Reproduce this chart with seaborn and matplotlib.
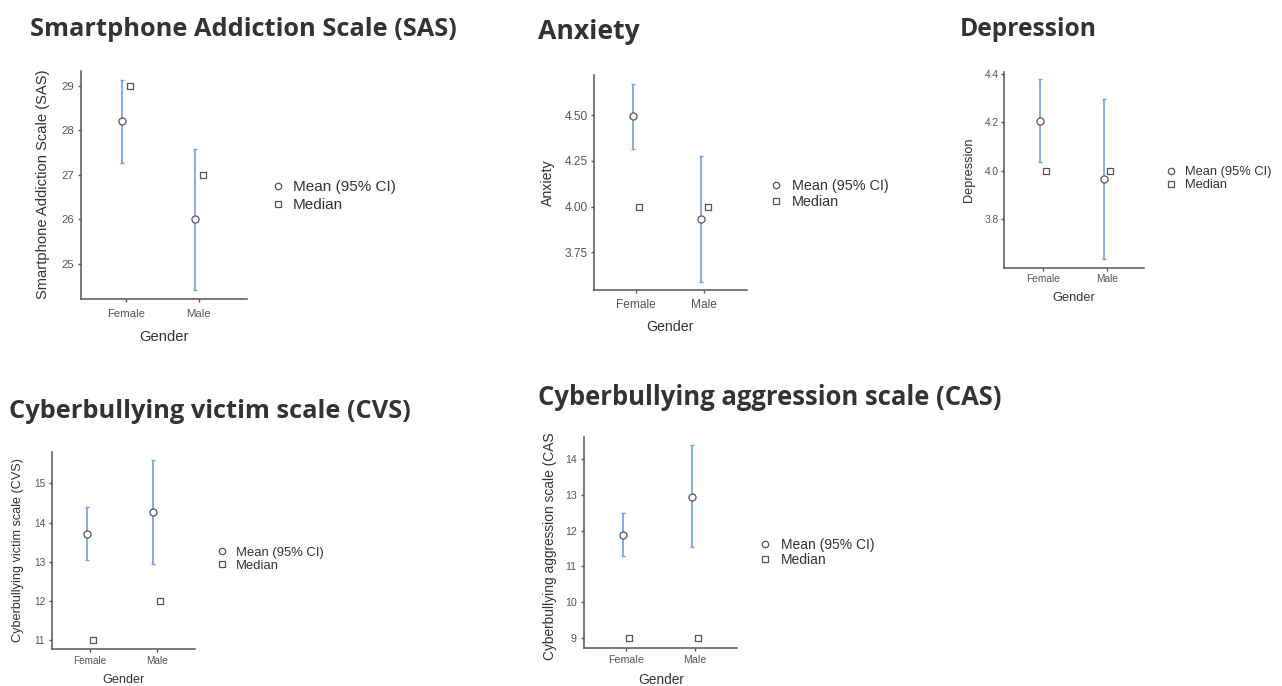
import matplotlib
matplotlib.use("Agg")
import matplotlib.pyplot as plt
from matplotlib.lines import Line2D
import seaborn as sns
import pandas as pd

# ---------------- data ----------------
titles = ["Smartphone Addiction Scale (SAS)", "Anxiety", "Depression",
          "Cyberbullying victim scale (CVS)", "Cyberbullying aggression scale (CAS)"]
ylabels = ["Smartphone Addiction Scale (SAS)", "Anxiety", "Depression",
           "Cyberbullying victim scale (CVS)", "Cyberbullying aggression scale (CAS"]
genders = ["Female", "Male"]

mean_female = [28.20, 4.495, 4.205, 13.71, 11.88]
mean_male = [26.00, 3.930, 3.965, 14.28, 12.95]
ci_low_female = [27.26, 4.314, 4.035, 13.04, 11.29]
ci_high_female = [29.13, 4.670, 4.378, 14.39, 12.48]
ci_low_male = [24.42, 3.590, 3.636, 12.94, 11.55]
ci_high_male = [27.58, 4.276, 4.297, 15.61, 14.39]
median_female = [29, 4.00, 4.0, 11, 9]
median_male = [27, 4.00, 4.0, 12, 9]

yticks = [[25, 26, 27, 28, 29],
          [3.75, 4.00, 4.25, 4.50],
          [3.8, 4.0, 4.2, 4.4],
          [11, 12, 13, 14, 15],
          [9, 10, 11, 12, 13, 14]]
ytick_fmt = ["{:.0f}", "{:.2f}", "{:.1f}", "{:.0f}", "{:.0f}"]
legend_labels = ["Mean (95% CI)", "Median"]

# ---------------- layout (pixels) ----------------
W, H = 1282, 686
# axes box: left, top, right, bottom
boxes = [(80.7, 70.7, 247, 299), (594, 75, 746.7, 290), (1004.3, 71.7, 1144, 268.3),
         (52.3, 451.7, 195, 649), (584.3, 436.7, 737.3, 647.7)]
ylims = [(24.21, 29.34), (3.544, 4.72), (3.597, 4.41), (10.77, 15.81), (8.73, 14.62)]
xlims = [(-0.62, 1.66), (-0.615, 1.62), (-0.60, 1.58), (-0.565, 1.575), (-0.604, 1.613)]
tick_fs = [8.2, 8.6, 7.3, 7.2, 7.7]
label_fs = [10.6, 10.2, 9.2, 9.1, 9.9]
legend_fs = [11.0, 10.4, 9.3, 9.4, 10.0]
legend_spacing = [0.25, 0.12, 0.1, 0.05, 0.05]
xpad = [5.3, 4.6, 2.2, 3.0, 3.0]
ypad = [2.7, 2.0, 1.5, 3.0, 3.3]
xlabel_y = [337, 326.7, 298, 680, 680]
ylabel_x = [43, 548, 969, 18, 550]
ylabel_y = [184, 183, 170, 550, 546]
leg_pos = [(278, 196, 293), (776, 193.7, 791.7), (1170.7, 178.7, 1185),
           (221.7, 559.3, 236), (765, 552.5, 780.7)]
title_pos = [(30, 457, 36.5), (538, 640, 39), (960, 1097, 36), (9, 411, 418), (538, 1002, 405)]

CI_COLOR = "#6f9fe6"
EDGE = "#555555"
DARK = "#333333"
SPINE = "#555555"
DODGE = 0.05

sns.set_style("ticks")
plt.rcParams["font.family"] = ["Liberation Sans", "DejaVu Sans"]

fig = plt.figure(figsize=(W / 100, H / 100), dpi=100)
fig.patch.set_facecolor("white")


def fx(px):
    return px / W


def fy(py):
    return 1 - py / H


for i in range(5):
    l, t, r, b = boxes[i]
    ax = fig.add_axes([fx(l), fy(b), (r - l) / W, (b - t) / H])
    df = pd.DataFrame({
        "Gender": genders,
        "pos": [0, 1],
        "mean": [mean_female[i], mean_male[i]],
        "lo": [ci_low_female[i], ci_low_male[i]],
        "hi": [ci_high_female[i], ci_high_male[i]],
        "median": [median_female[i], median_male[i]],
    })
    mx = df["pos"] - DODGE
    ax.errorbar(mx, df["mean"], yerr=[df["mean"] - df["lo"], df["hi"] - df["mean"]],
                fmt="none", ecolor=CI_COLOR, elinewidth=1.2, capsize=1.3, capthick=1.0, zorder=2)
    sns.scatterplot(x=mx, y=df["mean"], ax=ax, marker="o", s=26, facecolor="white",
                    edgecolor=EDGE, linewidth=0.9, zorder=3)
    sns.scatterplot(x=df["pos"] + DODGE, y=df["median"], ax=ax, marker="s", s=18,
                    facecolor="white", edgecolor=EDGE, linewidth=0.9, zorder=3)
    ax.set_xlim(*xlims[i])
    ax.set_ylim(*ylims[i])
    ax.set_xticks([0, 1])
    ax.set_xticklabels(genders)
    ax.set_yticks(yticks[i])
    ax.set_yticklabels([ytick_fmt[i].format(v) for v in yticks[i]])
    for s in ["top", "right"]:
        ax.spines[s].set_visible(False)
    for s in ["left", "bottom"]:
        ax.spines[s].set_color(SPINE)
        ax.spines[s].set_linewidth(1.1)
    ax.tick_params(axis="x", length=2.2, width=1.0, color=SPINE, labelsize=tick_fs[i],
                   labelcolor="#555555", pad=xpad[i])
    ax.tick_params(axis="y", length=2.2, width=1.0, color=SPINE, labelsize=tick_fs[i],
                   labelcolor="#555555", pad=ypad[i])
    ax.set_xlabel("Gender", fontsize=label_fs[i], color=DARK)
    ax.set_ylabel(ylabels[i], fontsize=label_fs[i], color=DARK)
    ax.xaxis.set_label_coords(fx((l + r) / 2), fy(xlabel_y[i]), transform=fig.transFigure)
    ax.xaxis.label.set_va("center")
    ax.yaxis.set_label_coords(fx(ylabel_x[i]), fy(ylabel_y[i]), transform=fig.transFigure)
    ax.yaxis.label.set_va("center")
    ax.set_facecolor("white")

    # legend
    cx, cy, tx = leg_pos[i]
    fs_px = legend_fs[i] * 100 / 72
    hl = 0.8
    handles = [Line2D([], [], marker="o", linestyle="none", markersize=4.6,
                      markerfacecolor="white", markeredgecolor=EDGE, markeredgewidth=0.9),
               Line2D([], [], marker="s", linestyle="none", markersize=4.0,
                      markerfacecolor="white", markeredgecolor=EDGE, markeredgewidth=0.9)]
    x_anchor = cx - hl * fs_px / 2
    pad = (tx - cx - hl * fs_px / 2) / fs_px
    fig.legend(handles, legend_labels, loc="center left",
               bbox_to_anchor=(fx(x_anchor), fy(cy)), bbox_transform=fig.transFigure,
               frameon=False, fontsize=legend_fs[i], handlelength=hl, handletextpad=pad,
               borderpad=0, borderaxespad=0, labelspacing=legend_spacing[i], labelcolor=DARK)

# titles, fitted to their measured width
renderer = fig.canvas.get_renderer()
for i in range(5):
    x0, x1, yb = title_pos[i]
    txt = fig.text(fx(x0), fy(yb), titles[i], fontsize=16, fontweight="bold",
                   family=["Open Sans", "DejaVu Sans"], color=DARK, va="baseline", ha="left")
    w = txt.get_window_extent(renderer).width
    txt.set_fontsize(16 * (x1 - x0) / w)

fig.savefig("out.png", dpi=100, facecolor="white")
